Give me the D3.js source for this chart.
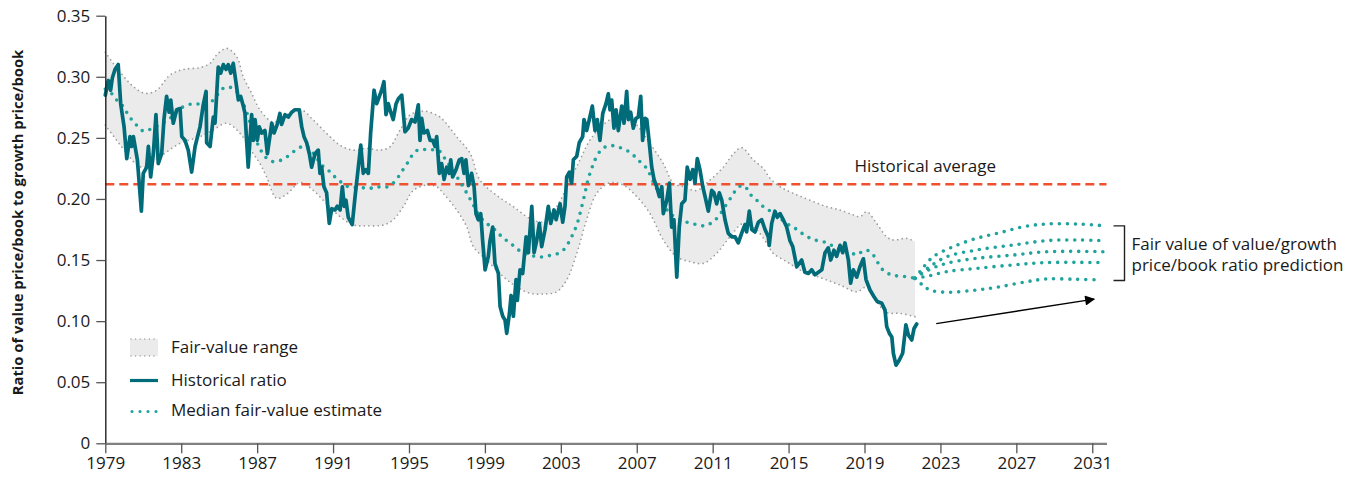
<!DOCTYPE html>
<html>
<head>
<meta charset="utf-8">
<script src="https://cdn.jsdelivr.net/npm/d3@7"></script>
<style>
  html, body { margin: 0; padding: 0; background: #fff; }
  svg { display: block; font-family: "Open Sans", Lato, sans-serif; }
</style>
</head>
<body>
<svg id="chart" width="1353" height="477"></svg>
<script>
// Value/growth price-to-book ratio, 1979–2021, with fair-value band and projection to 2031

const historicalAverage = 0.212;

const historical = [
  [1979.00,0.285],[1979.16,0.297],[1979.28,0.289],[1979.37,0.299],[1979.51,0.306],[1979.68,0.310],
  [1979.81,0.278],[1979.99,0.259],[1980.13,0.233],[1980.30,0.251],[1980.39,0.243],[1980.48,0.251],
  [1980.69,0.232],[1980.90,0.190],[1981.00,0.221],[1981.18,0.226],[1981.27,0.243],[1981.39,0.218],
  [1981.53,0.237],[1981.67,0.269],[1981.79,0.229],[1981.97,0.237],[1982.09,0.265],[1982.23,0.284],
  [1982.36,0.271],[1982.45,0.281],[1982.58,0.262],[1982.76,0.273],[1982.94,0.274],[1983.03,0.251],
  [1983.20,0.248],[1983.37,0.240],[1983.55,0.222],[1983.73,0.243],[1983.99,0.259],[1984.16,0.277],
  [1984.31,0.288],[1984.34,0.246],[1984.52,0.243],[1984.69,0.267],[1984.78,0.262],[1984.95,0.308],
  [1985.08,0.303],[1985.22,0.310],[1985.36,0.306],[1985.48,0.310],[1985.61,0.303],[1985.74,0.311],
  [1985.89,0.295],[1986.01,0.281],[1986.13,0.284],[1986.27,0.276],[1986.36,0.270],[1986.53,0.226],
  [1986.71,0.269],[1986.80,0.248],[1986.89,0.265],[1987.01,0.248],[1987.11,0.259],[1987.24,0.254],
  [1987.41,0.256],[1987.54,0.237],[1987.77,0.262],[1987.89,0.254],[1988.06,0.261],[1988.20,0.270],
  [1988.29,0.261],[1988.47,0.269],[1988.64,0.267],[1988.82,0.271],[1988.99,0.273],[1989.22,0.273],
  [1989.35,0.259],[1989.47,0.251],[1989.61,0.246],[1989.75,0.237],[1989.87,0.226],[1990.05,0.237],
  [1990.22,0.240],[1990.31,0.221],[1990.40,0.226],[1990.52,0.210],[1990.66,0.205],[1990.80,0.180],
  [1990.93,0.192],[1991.10,0.191],[1991.22,0.194],[1991.37,0.191],[1991.49,0.210],[1991.59,0.194],
  [1991.68,0.199],[1991.80,0.185],[1992.01,0.179],[1992.16,0.202],[1992.33,0.226],[1992.46,0.244],
  [1992.59,0.221],[1992.72,0.224],[1992.86,0.221],[1992.98,0.254],[1993.16,0.289],[1993.30,0.278],
  [1993.44,0.284],[1993.56,0.289],[1993.68,0.296],[1993.79,0.269],[1993.91,0.278],[1994.04,0.271],
  [1994.17,0.265],[1994.32,0.278],[1994.44,0.282],[1994.62,0.285],[1994.79,0.255],[1994.96,0.258],
  [1995.14,0.265],[1995.32,0.263],[1995.49,0.277],[1995.58,0.248],[1995.67,0.266],[1995.79,0.254],
  [1995.97,0.256],[1996.11,0.248],[1996.25,0.248],[1996.37,0.243],[1996.46,0.251],[1996.60,0.221],
  [1996.72,0.229],[1996.85,0.216],[1996.99,0.226],[1997.12,0.221],[1997.20,0.232],[1997.30,0.218],
  [1997.48,0.224],[1997.65,0.232],[1997.78,0.233],[1997.90,0.221],[1998.00,0.232],[1998.13,0.211],
  [1998.30,0.221],[1998.43,0.210],[1998.53,0.188],[1998.65,0.183],[1998.78,0.188],[1998.88,0.166],
  [1999.01,0.142],[1999.18,0.153],[1999.27,0.166],[1999.41,0.177],[1999.53,0.147],[1999.71,0.139],
  [1999.80,0.112],[1999.94,0.104],[2000.06,0.101],[2000.15,0.090],[2000.29,0.106],[2000.38,0.121],
  [2000.50,0.104],[2000.64,0.134],[2000.71,0.117],[2000.85,0.142],[2000.99,0.139],[2001.17,0.169],
  [2001.29,0.156],[2001.47,0.194],[2001.59,0.156],[2001.73,0.166],[2001.87,0.180],[2001.99,0.161],
  [2002.17,0.175],[2002.34,0.194],[2002.47,0.180],[2002.64,0.191],[2002.75,0.183],[2002.96,0.196],
  [2003.10,0.181],[2003.22,0.194],[2003.31,0.218],[2003.45,0.222],[2003.57,0.213],[2003.66,0.232],
  [2003.84,0.235],[2003.97,0.246],[2004.15,0.251],[2004.22,0.265],[2004.36,0.256],[2004.50,0.265],
  [2004.66,0.276],[2004.80,0.256],[2004.92,0.265],[2005.06,0.248],[2005.21,0.270],[2005.38,0.278],
  [2005.50,0.286],[2005.59,0.273],[2005.68,0.281],[2005.80,0.258],[2005.91,0.273],[2006.03,0.256],
  [2006.21,0.276],[2006.33,0.262],[2006.47,0.288],[2006.56,0.265],[2006.68,0.271],[2006.82,0.258],
  [2006.96,0.266],[2007.08,0.267],[2007.21,0.284],[2007.31,0.248],[2007.44,0.266],[2007.53,0.265],
  [2007.66,0.246],[2007.79,0.226],[2007.91,0.216],[2008.05,0.210],[2008.19,0.202],[2008.32,0.210],
  [2008.40,0.188],[2008.58,0.199],[2008.72,0.213],[2008.84,0.177],[2008.96,0.183],[2009.11,0.136],
  [2009.24,0.177],[2009.37,0.196],[2009.54,0.199],[2009.66,0.226],[2009.81,0.216],[2009.95,0.224],
  [2010.07,0.213],[2010.19,0.233],[2010.33,0.224],[2010.48,0.210],[2010.60,0.202],[2010.77,0.190],
  [2010.95,0.207],[2011.07,0.205],[2011.21,0.196],[2011.35,0.205],[2011.48,0.199],[2011.65,0.183],
  [2011.82,0.172],[2012.00,0.169],[2012.18,0.169],[2012.35,0.164],[2012.53,0.172],[2012.70,0.179],
  [2012.79,0.173],[2012.93,0.190],[2013.06,0.175],[2013.23,0.173],[2013.41,0.181],[2013.58,0.183],
  [2013.76,0.175],[2013.93,0.169],[2013.98,0.162],[2014.11,0.180],[2014.28,0.190],[2014.41,0.185],
  [2014.55,0.188],[2014.72,0.183],[2014.90,0.177],[2015.07,0.166],[2015.22,0.161],[2015.43,0.1445],
  [2015.69,0.150],[2015.86,0.140],[2016.04,0.139],[2016.22,0.142],[2016.39,0.138],[2016.57,0.140],
  [2016.75,0.142],[2016.92,0.156],[2017.09,0.160],[2017.22,0.150],[2017.39,0.158],[2017.53,0.153],
  [2017.71,0.162],[2017.85,0.156],[2017.97,0.164],[2018.15,0.150],[2018.27,0.131],[2018.41,0.142],
  [2018.59,0.136],[2018.76,0.1445],[2018.94,0.151],[2019.08,0.134],[2019.29,0.1255],[2019.50,0.120],
  [2019.67,0.116],[2019.91,0.1146],[2020.08,0.109],[2020.17,0.0955],[2020.31,0.090],[2020.44,0.087],
  [2020.52,0.0737],[2020.66,0.064],[2020.83,0.068],[2021.01,0.0737],[2021.13,0.090],[2021.18,0.097],
  [2021.31,0.0886],[2021.49,0.0846],[2021.61,0.094],[2021.75,0.0976]
];

const upperBound = [
  [1979.00,0.320],[1979.77,0.304],[1980.48,0.292],[1981.09,0.2865],[1981.71,0.289],[1982.41,0.3015],
  [1983.11,0.306],[1983.99,0.3075],[1984.52,0.311],[1984.87,0.318],[1985.40,0.3233],[1985.92,0.3165],
  [1986.27,0.300],[1986.71,0.2865],[1987.15,0.273],[1987.85,0.263],[1988.56,0.269],[1989.26,0.2735],
  [1989.96,0.2646],[1990.66,0.2537],[1991.37,0.244],[1992.07,0.240],[1992.77,0.2415],[1993.47,0.240],
  [1994.00,0.2428],[1994.53,0.2565],[1995.05,0.2687],[1995.75,0.272],[1996.46,0.2687],[1996.81,0.2646],
  [1997.51,0.251],[1998.22,0.2374],[1998.74,0.2155],[1999.62,0.203],[2000.50,0.1937],[2001.38,0.184],
  [2002.08,0.1814],[2002.78,0.1937],[2003.48,0.2155],[2004.01,0.232],[2004.53,0.248],[2005.32,0.262],
  [2006.11,0.268],[2006.90,0.262],[2007.69,0.2455],[2008.40,0.229],[2008.93,0.213],[2009.45,0.210],
  [2010.16,0.207],[2010.86,0.2155],[2011.56,0.226],[2012.09,0.237],[2012.53,0.242],[2013.14,0.232],
  [2013.67,0.225],[2014.02,0.217],[2014.55,0.210],[2015.25,0.2046],[2016.13,0.199],[2017.01,0.1937],
  [2017.71,0.191],[2018.41,0.187],[2018.76,0.1855],[2019.12,0.1896],[2019.64,0.180],[2020.17,0.169],
  [2020.52,0.1664],[2021.22,0.1678],[2021.66,0.165]
];

const lowerBound = [
  [1979.00,0.2605],[1979.60,0.248],[1980.13,0.2374],[1980.65,0.2280],[1981.00,0.2260],[1981.88,0.2346],
  [1982.94,0.2456],[1983.99,0.251],[1984.69,0.2565],[1985.40,0.262],[1986.10,0.2537],[1986.80,0.237],
  [1987.15,0.229],[1987.50,0.218],[1988.03,0.2005],[1988.56,0.204],[1989.26,0.2134],[1989.96,0.207],
  [1990.66,0.196],[1991.37,0.1855],[1992.07,0.1787],[1992.77,0.178],[1993.65,0.1787],[1994.17,0.183],
  [1994.70,0.1937],[1995.23,0.207],[1995.93,0.2114],[1996.46,0.210],[1996.81,0.2046],[1997.51,0.191],
  [1998.04,0.1773],[1998.39,0.161],[1999.09,0.150],[1999.97,0.1364],[2000.68,0.128],[2001.38,0.1228],
  [2002.08,0.1222],[2002.78,0.124],[2003.31,0.1337],[2003.84,0.1555],[2004.36,0.183],[2004.89,0.2046],
  [2005.59,0.2133],[2006.29,0.2114],[2007.00,0.202],[2007.70,0.188],[2008.40,0.1664],[2009.11,0.1527],
  [2009.81,0.1487],[2010.51,0.1473],[2011.21,0.1555],[2011.91,0.169],[2012.61,0.180],[2013.32,0.1746],
  [2013.85,0.1637],[2014.19,0.1555],[2014.90,0.1487],[2015.60,0.1418],[2016.30,0.1378],[2017.01,0.1337],
  [2017.71,0.1296],[2018.59,0.124],[2019.12,0.128],[2019.64,0.116],[2020.17,0.107],[2020.87,0.1064],
  [2021.66,0.1036]
];

const medianEstimate = [
  [1979.00,0.290],[1979.42,0.285],[1979.60,0.281],[1979.95,0.2755],[1980.21,0.2687],[1980.48,0.2632],
  [1980.74,0.259],[1981.00,0.2556],[1981.36,0.257],[1982.41,0.266],[1982.94,0.274],[1983.64,0.278],
  [1984.34,0.277],[1984.69,0.281],[1985.22,0.2906],[1985.57,0.2914],[1985.92,0.288],[1986.27,0.278],
  [1986.53,0.2673],[1986.80,0.2537],[1987.06,0.244],[1987.24,0.2387],[1987.50,0.2333],[1987.85,0.2305],
  [1988.29,0.2319],[1988.64,0.2352],[1988.99,0.2395],[1989.35,0.2428],[1989.63,0.243],[1989.96,0.2374],
  [1990.49,0.2264],[1990.84,0.2223],[1991.10,0.218],[1991.46,0.2133],[1991.80,0.210],[1992.51,0.2092],
  [1992.95,0.2087],[1993.30,0.210],[1993.65,0.2092],[1994.00,0.211],[1994.32,0.2155],[1994.56,0.221],
  [1994.79,0.2264],[1995.05,0.2325],[1995.23,0.2374],[1995.58,0.2406],[1996.02,0.240],[1996.54,0.2400],
  [1996.99,0.2305],[1997.69,0.2141],[1998.22,0.2000],[1998.74,0.1855],[1999.09,0.180],[1999.44,0.176],
  [1999.71,0.172],[1999.97,0.1678],[2000.32,0.1642],[2000.59,0.1604],[2000.94,0.1566],[2001.38,0.1541],
  [2001.73,0.1527],[2002.11,0.1527],[2002.52,0.1541],[2002.87,0.1555],[2003.22,0.1596],[2003.48,0.1664],
  [2003.66,0.172],[2003.84,0.1787],[2004.01,0.188],[2004.27,0.2046],[2004.45,0.2169],[2004.63,0.2250],
  [2004.80,0.232],[2005.15,0.2406],[2005.50,0.2434],[2005.86,0.2434],[2006.21,0.2415],[2006.59,0.2387],
  [2006.91,0.2346],[2007.17,0.2305],[2007.52,0.2251],[2007.87,0.2141],[2008.22,0.2032],[2008.49,0.1937],
  [2008.75,0.188],[2009.19,0.184],[2009.54,0.1814],[2009.90,0.180],[2010.24,0.1787],[2010.60,0.178],
  [2010.95,0.1806],[2011.30,0.1855],[2011.65,0.1937],[2012.00,0.202],[2012.23,0.2073],[2012.53,0.211],
  [2012.79,0.2087],[2013.06,0.2024],[2013.41,0.1978],[2013.76,0.1924],[2014.11,0.1896],[2014.46,0.1855],
  [2014.90,0.180],[2015.34,0.176],[2015.69,0.172],[2016.04,0.1686],[2016.39,0.1664],[2016.83,0.165],
  [2017.15,0.1631],[2017.53,0.1596],[2017.88,0.1582],[2018.24,0.1568],[2018.59,0.1541],[2018.94,0.1577],
  [2019.20,0.1577],[2019.55,0.1523],[2019.82,0.1445],[2020.08,0.1405],[2020.43,0.1378],[2020.78,0.1369],
  [2021.22,0.1364],[2021.66,0.135]
];

// Five projected fair-value paths, 2022–2031
const projections = [
  [[2021.66,0.135],[2022.00,0.142],[2022.62,0.1527],[2023.68,0.161],[2024.91,0.1678],[2026.14,0.1724],
   [2027.37,0.1773],[2028.60,0.1795],[2030.18,0.1795],[2031.68,0.178]],
  [[2021.66,0.135],[2022.30,0.143],[2023.33,0.1527],[2024.91,0.1582],[2026.84,0.1623],[2028.60,0.1659],
   [2030.18,0.1664],[2031.68,0.1659]],
  [[2021.66,0.135],[2022.40,0.142],[2023.33,0.1473],[2024.91,0.1514],[2026.84,0.1541],[2028.60,0.1568],
   [2031.68,0.1568]],
  [[2021.66,0.135],[2022.40,0.137],[2023.33,0.1405],[2024.91,0.1432],[2026.84,0.146],[2028.60,0.1479],
   [2031.68,0.1479]],
  [[2021.66,0.135],[2022.10,0.129],[2022.45,0.1255],[2023.33,0.1236],[2024.91,0.1255],[2026.14,0.1282],
   [2027.55,0.1323],[2028.60,0.1345],[2030.18,0.1342],[2031.41,0.1337]]
];

const xTicks = [1979,1983,1987,1991,1995,1999,2003,2007,2011,2015,2019,2023,2027,2031];
const yTicks = [0,0.05,0.10,0.15,0.20,0.25,0.30,0.35];

const legendItems = ["Fair-value range", "Historical ratio", "Median fair-value estimate"];

// ---------- drawing ----------
const svg = d3.select("#chart");
const FONT = "'Open Sans', Lato, sans-serif";
const FS = 17;
const C = {
  hist: "#006b79",
  median: "#1fa39c",
  band: "#ebebeb",
  bandEdge: "#9a9a9a",
  avg: "#f0502f",
  text: "#1a1a1a"
};

const x = d3.scaleLinear().domain([1979, 2031.75]).range([105.3, 1106.5]);
const y = d3.scaleLinear().domain([0, 0.35]).range([443.3, 15.7]);

const lineLin = d3.line().x(d => x(d[0])).y(d => y(d[1]));
const lineSmooth = d3.line().x(d => x(d[0])).y(d => y(d[1])).curve(d3.curveCatmullRom.alpha(0.5));

// Fair-value band
const upperPath = lineSmooth(upperBound);
const lowerPath = lineSmooth(lowerBound.slice().reverse());
svg.append("path")
  .attr("d", upperPath + "L" + lowerPath.slice(1) + "Z")
  .attr("fill", C.band);
[upperPath, lineSmooth(lowerBound)].forEach(p => {
  svg.append("path").attr("d", p)
    .attr("fill", "none").attr("stroke", C.bandEdge)
    .attr("stroke-width", 1.7).attr("stroke-linecap", "round")
    .attr("stroke-dasharray", "0,4.6");
});

// Historical average
svg.append("line")
  .attr("x1", x(1979)).attr("x2", x(2031.75))
  .attr("y1", y(historicalAverage)).attr("y2", y(historicalAverage))
  .attr("stroke", C.avg).attr("stroke-width", 2.4)
  .attr("stroke-dasharray", "9,5");
svg.append("text")
  .attr("x", x(2022.2)).attr("y", y(historicalAverage) - 12)
  .attr("text-anchor", "middle")
  .attr("font-size", FS).attr("fill", C.text)
  .text("Historical average");

// Median fair-value estimate
svg.append("path").attr("d", lineSmooth(medianEstimate))
  .attr("fill", "none").attr("stroke", C.median)
  .attr("stroke-width", 3.6).attr("stroke-linecap", "round")
  .attr("stroke-dasharray", "0,8");

// Projections
projections.forEach(p => {
  svg.append("path").attr("d", lineSmooth(p))
    .attr("fill", "none").attr("stroke", C.median)
    .attr("stroke-width", 3.6).attr("stroke-linecap", "round")
    .attr("stroke-dasharray", "0,8");
});

// Historical ratio
svg.append("path").attr("d", lineLin(historical))
  .attr("fill", "none").attr("stroke", C.hist)
  .attr("stroke-width", 3.7).attr("stroke-linejoin", "round").attr("stroke-linecap", "round");

// Axes
const yAxis = svg.append("g").attr("transform", `translate(${x(1979)},0)`)
  .call(d3.axisLeft(y).tickValues(yTicks).tickSize(9).tickSizeOuter(0).tickPadding(6)
    .tickFormat(d => d === 0 ? "0" : d3.format(".2f")(d)));
yAxis.select(".domain").attr("stroke", "#222").attr("stroke-width", 1.4);
yAxis.selectAll(".tick line").attr("stroke", "#555").attr("stroke-width", 1.3);
yAxis.selectAll(".tick text").attr("font-size", FS).attr("fill", C.text)
  .attr("font-family", FONT);

const xAxis = svg.append("g").attr("transform", `translate(0,${y(0)})`)
  .call(d3.axisBottom(x).tickValues(xTicks).tickSize(10).tickSizeOuter(0).tickPadding(4)
    .tickFormat(d3.format("d")));
xAxis.select(".domain").attr("stroke", "#808080").attr("stroke-width", 2.2);
xAxis.selectAll(".tick line").attr("stroke", "#555").attr("stroke-width", 1.3);
xAxis.selectAll(".tick text").attr("font-size", FS).attr("fill", C.text)
  .attr("font-family", FONT);

// Y-axis title
svg.append("text")
  .attr("transform", `translate(23,${(y(0) + y(0.35)) / 2 - 7}) rotate(-90)`)
  .attr("text-anchor", "middle")
  .attr("font-size", 14.8).attr("font-weight", "bold").attr("fill", C.text)
  .text("Ratio of value price/book to growth price/book");

// Legend
const lg = svg.append("g").attr("transform", "translate(130,0)");
lg.append("rect").attr("x", 0).attr("y", 339).attr("width", 28).attr("height", 17).attr("fill", C.band);
[339, 356].forEach(yy => lg.append("line")
  .attr("x1", 1).attr("x2", 28).attr("y1", yy).attr("y2", yy)
  .attr("stroke", C.bandEdge).attr("stroke-width", 1.4).attr("stroke-linecap", "round")
  .attr("stroke-dasharray", "0,4.6"));
lg.append("line").attr("x1", 0).attr("x2", 28).attr("y1", 380.5).attr("y2", 380.5)
  .attr("stroke", C.hist).attr("stroke-width", 3.2);
lg.append("line").attr("x1", 2).attr("x2", 28).attr("y1", 411.5).attr("y2", 411.5)
  .attr("stroke", C.median).attr("stroke-width", 3.2).attr("stroke-linecap", "round")
  .attr("stroke-dasharray", "0,8");
legendItems.forEach((t, i) => lg.append("text")
  .attr("x", 41).attr("y", [347.5, 380.5, 410.5][i]).attr("dy", "0.35em")
  .attr("font-size", FS).attr("fill", C.text).text(t));

// Projection bracket and note
const bx = x(2031.75) + 18, bTop = y(0.178), bBot = y(0.1333);
svg.append("path")
  .attr("d", `M${bx - 11},${bTop}H${bx}V${bBot}H${bx - 11}`)
  .attr("fill", "none").attr("stroke", "#222").attr("stroke-width", 1.4);
svg.append("text").attr("x", bx + 7).attr("y", y(0.163)).attr("dy", "0.35em")
  .attr("font-size", FS).attr("fill", C.text).text("Fair value of value/growth");
svg.append("text").attr("x", bx + 7).attr("y", y(0.146)).attr("dy", "0.35em")
  .attr("font-size", FS).attr("fill", C.text).text("price/book ratio prediction");

// Arrow pointing toward the projection horizon
svg.append("defs").append("marker")
  .attr("id", "arrowhead").attr("viewBox", "0 0 10 10")
  .attr("refX", 9).attr("refY", 5)
  .attr("markerWidth", 12).attr("markerHeight", 10)
  .attr("markerUnits", "userSpaceOnUse").attr("orient", "auto")
  .append("path").attr("d", "M0,0L10,5L0,10Z").attr("fill", "#000");
svg.append("line")
  .attr("x1", x(2022.78)).attr("y1", y(0.0980))
  .attr("x2", x(2031.1)).attr("y2", y(0.118))
  .attr("stroke", "#000").attr("stroke-width", 1.4)
  .attr("marker-end", "url(#arrowhead)");
</script>
</body>
</html>
